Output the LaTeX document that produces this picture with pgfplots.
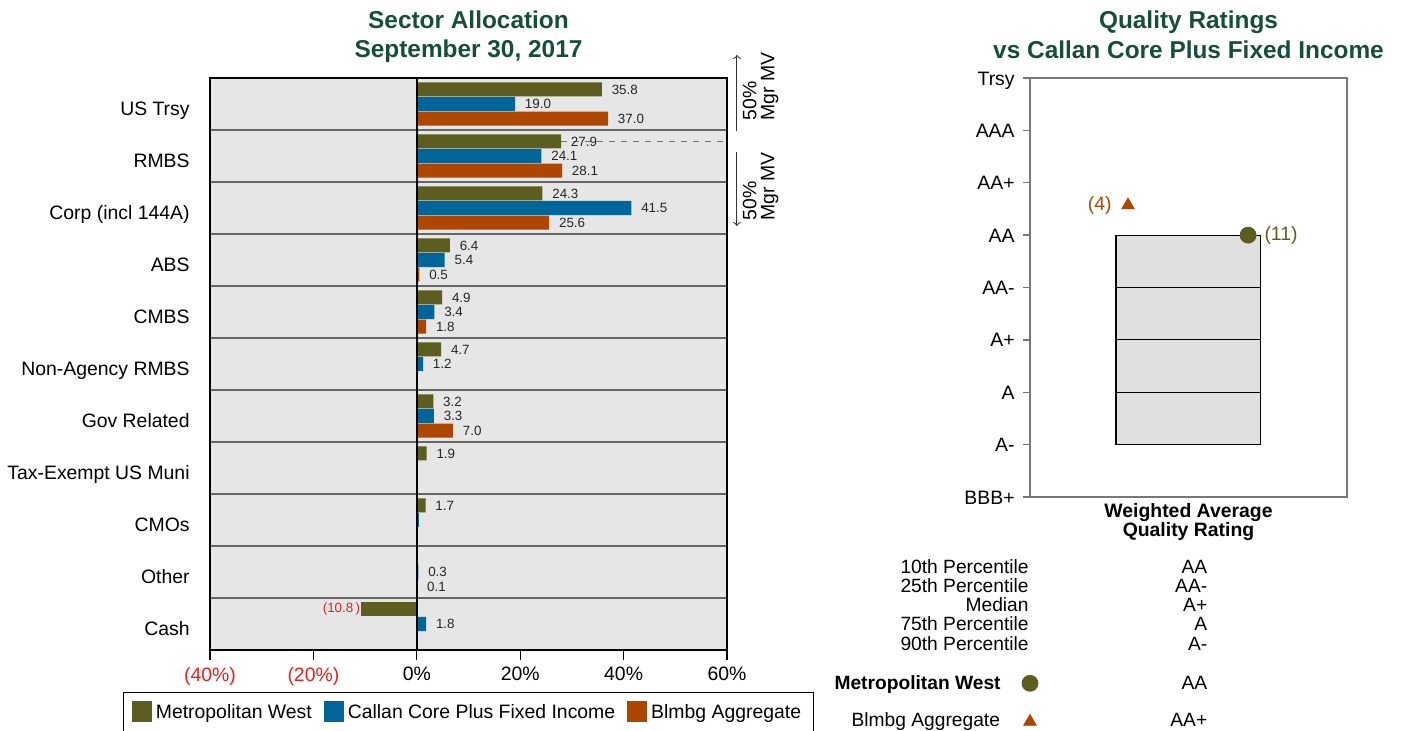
\documentclass[border=0pt]{standalone}
\usepackage{fontspec}
\setmainfont{Liberation Sans}
\usepackage{pgfplots}
\pgfplotsset{compat=1.18}
\usepackage{pgfplotstable}

\definecolor{mw}{RGB}{93,93,32}
\definecolor{cal}{RGB}{0,102,153}
\definecolor{blm}{RGB}{172,70,0}
\definecolor{bg}{RGB}{230,230,230}
\definecolor{boxg}{RGB}{224,224,224}
\definecolor{ttl}{RGB}{22,78,60}
\definecolor{neg}{RGB}{235,30,30}
\definecolor{axg}{RGB}{120,120,120}
\definecolor{dashcol}{RGB}{120,120,70}

\newcommand\fnt{\fontsize{9.7}{11}\selectfont}
\newcommand\lbl{\fontsize{6.7}{7}\selectfont}
\newcommand\ttlf{\fontsize{12.2}{14.5}\selectfont\bfseries}

% Sector allocation: x = percent, y = bar position (row 0 = US Trsy ... row -10 = Cash;
% Metropolitan West bars sit 0.28 above the row centre, Blmbg 0.28 below)
\pgfplotstableread{
x y
35.8 0.28
27.9 -0.72
24.3 -1.72
6.4 -2.72
4.9 -3.72
4.7 -4.72
3.2 -5.72
1.9 -6.72
1.7 -7.72
}\mwtab
\pgfplotstableread{
x y
-10.8 -9.72
}\mwneg
\pgfplotstableread{
x y
19.0 0
24.1 -1
41.5 -2
5.4 -3
3.4 -4
1.2 -5
3.3 -6
0.3 -9
1.8 -10
}\caltab
\pgfplotstableread{
x y
37.0 -0.28
28.1 -1.28
25.6 -2.28
0.5 -3.28
1.8 -4.28
7.0 -6.28
0.1 -9.28
}\blmtab

\begin{document}
\begin{tikzpicture}
\useasboundingbox (0pt,0pt) rectangle (701.5pt,-365pt);

% ---------------- Sector allocation ----------------
\begin{axis}[
  at={(105pt,-325pt)}, anchor=south west,
  scale only axis, width=258.5pt, height=286pt,
  xmin=-40, xmax=60, ymin=-10.5, ymax=0.5,
  axis background/.style={fill=bg},
  axis line style={black, line width=0.7pt},
  xtick={-40,-20,0,20,40,60},
  xticklabels={\textcolor{neg}{(40\%)},\textcolor{neg}{(20\%)},0\%,20\%,40\%,60\%},
  ytick={-10,-9,...,0},
  yticklabels={Cash,Other,CMOs,Tax-Exempt US Muni,Gov Related,Non-Agency RMBS,CMBS,ABS,Corp (incl 144A),RMBS,US Trsy},
  tick pos=left, tick align=outside,
  major tick length=5pt,
  xtick style={black, line width=0.6pt},
  ytick style={draw=none},
  x tick label style={font=\fnt},
  y tick label style={font=\fnt, anchor=base east, inner sep=0pt, xshift=-5pt, yshift=-5.6pt},
  minor ytick={-9.5,-8.5,...,-0.5},
  yminorgrids=true,
  minor grid style={black!60, line width=0.6pt},
  minor tick length=0pt,
  clip=false,
  legend columns=3,
  legend style={at={(0.5,-0.0734)}, anchor=north, draw=black, line width=0.6pt,
    font=\fnt, inner xsep=4pt, inner ysep=4pt,
    /tikz/every even column/.append style={column sep=4pt}},
  legend image code/.code={\fill[#1] (0pt,-4.5pt) rectangle (10pt,6pt);},
  every node near coord/.append style={anchor=west, inner sep=0pt, xshift=4.75pt, font=\lbl, text=black!85},
]
\addplot[xbar, bar width=0.27, bar shift=0, fill=mw, draw=none, point meta=x,
  nodes near coords={\pgfmathprintnumber[fixed,fixed zerofill,precision=1,assume math mode=true]{\pgfplotspointmeta}}]
  table[x=x,y=y]{\mwtab};
\addlegendentry{Metropolitan West}
\addplot[xbar, bar width=0.27, bar shift=0, fill=cal, draw=none, point meta=x,
  nodes near coords={\pgfmathprintnumber[fixed,fixed zerofill,precision=1,assume math mode=true]{\pgfplotspointmeta}}]
  table[x=x,y=y]{\caltab};
\addlegendentry{Callan Core Plus Fixed Income}
\addplot[xbar, bar width=0.27, bar shift=0, fill=blm, draw=none, point meta=x,
  nodes near coords={\pgfmathprintnumber[fixed,fixed zerofill,precision=1,assume math mode=true]{\pgfplotspointmeta}}]
  table[x=x,y=y]{\blmtab};
\addlegendentry{Blmbg Aggregate}
% negative cash position
\addplot[xbar, bar width=0.27, bar shift=0, fill=mw, draw=none, forget plot,
  nodes near coords={(10.8\,)},
  every node near coord/.append style={anchor=east, xshift=-5pt, text=neg}]
  table[x=x,y=y]{\mwneg};
% tiny CMOs bar (no label)
\addplot[xbar, bar width=0.27, bar shift=0, fill=cal, draw=none, forget plot]
  coordinates {(0.4,-8)};
% zero line
\addplot[black, line width=0.7pt, forget plot] coordinates {(0,-10.5) (0,0.5)};
% dashed reference line at the RMBS bar
\addplot[dashcol, dashed, line width=0.5pt, forget plot] coordinates {(27.9,-0.712) (60,-0.712)};
% 50% Mgr MV annotations
\draw[->, black!80, line width=0.5pt] (axis cs:61.93,-0.519) -- (axis cs:61.93,0.942);
\draw[->, black!80, line width=0.5pt] (axis cs:61.93,-0.923) -- (axis cs:61.93,-2.346);
\node[rotate=90, align=left, font=\fontsize{9.7}{9}\selectfont, inner sep=0pt] at (axis cs:66.5,0.337) {50\%\\Mgr MV};
\node[rotate=90, align=left, font=\fontsize{9.7}{9}\selectfont, inner sep=0pt] at (axis cs:66.5,-1.587) {50\%\\Mgr MV};
\end{axis}

% ---------------- Quality ratings ----------------
\begin{axis}[
  at={(515pt,-248.5pt)}, anchor=south west,
  scale only axis, width=158.5pt, height=209.5pt,
  xmin=0, xmax=1, ymin=0, ymax=8,
  xtick=\empty,
  ytick={0,1,...,8},
  yticklabels={BBB+,A-,A,A+,AA-,AA,AA+,AAA,Trsy},
  ytick pos=left, tick align=outside, major tick length=3.5pt,
  ytick style={axg, line width=0.7pt},
  axis line style={axg, line width=0.7pt},
  y tick label style={font=\fnt, anchor=base east, inner sep=0pt, xshift=-4pt, yshift=-3.5pt},
  clip=false,
]
\addplot[fill=boxg, draw=black, line width=0.6pt] coordinates {(0.271,1) (0.726,1) (0.726,5) (0.271,5) (0.271,1)};
\addplot[black, line width=0.5pt] coordinates {(0.271,2) (0.726,2)};
\addplot[black, line width=0.5pt] coordinates {(0.271,3) (0.726,3)};
\addplot[black, line width=0.5pt] coordinates {(0.271,4) (0.726,4)};
\addplot[only marks, mark=*, mark size=4pt, color=mw,
  nodes near coords={(11)},
  every node near coord/.append style={anchor=west, inner sep=0pt, xshift=8pt, text=mw, font=\fnt}]
  coordinates {(0.688,5)};
\addplot[only marks, mark=triangle*, mark size=3.6pt, color=blm,
  nodes near coords={(4)},
  every node near coord/.append style={anchor=east, inner sep=0pt, xshift=-8pt, text=blm, font=\fnt}]
  coordinates {(0.309,5.571)};
% legend symbols of the table below
\addplot[only marks, mark=*, mark size=4pt, color=mw] coordinates {(0,-3.557)};
\addplot[only marks, mark=triangle*, mark size=3.6pt, color=blm] coordinates {(0,-4.29)};
\end{axis}

% titles
\node[anchor=base, font=\ttlf, text=ttl] at (234.25pt,-14.35pt) {Sector Allocation};
\node[anchor=base, font=\ttlf, text=ttl] at (234.25pt,-28.85pt) {September 30, 2017};
\node[anchor=base, font=\ttlf, text=ttl] at (594.25pt,-14.35pt) {Quality Ratings};
\node[anchor=base, font=\ttlf, text=ttl] at (594.25pt,-29.35pt) {vs Callan Core Plus Fixed Income};
% x label of quality chart
\node[anchor=base, font=\fnt\bfseries] at (594.25pt,-258.5pt) {Weighted Average};
\node[anchor=base, font=\fnt\bfseries] at (594.25pt,-268pt) {Quality Rating};
% percentile table
\begin{scope}[every node/.style={font=\fontsize{9.6}{10}\selectfont, inner sep=0pt}]
\node[anchor=base east] at (514.5pt,-286.65pt) {10th Percentile};
\node[anchor=base east] at (514.5pt,-296.25pt) {25th Percentile};
\node[anchor=base east] at (514.5pt,-305.85pt) {Median};
\node[anchor=base east] at (514.5pt,-315.45pt) {75th Percentile};
\node[anchor=base east] at (514.5pt,-325.05pt) {90th Percentile};
\node[anchor=base east] at (603.8pt,-286.65pt) {AA};
\node[anchor=base east] at (603.8pt,-296.25pt) {AA-};
\node[anchor=base east] at (603.8pt,-305.85pt) {A+};
\node[anchor=base east] at (603.8pt,-315.45pt) {A};
\node[anchor=base east] at (603.8pt,-325.05pt) {A-};
\node[anchor=base east, font=\fontsize{9.6}{10}\selectfont\bfseries] at (500.5pt,-344.67pt) {Metropolitan West};
\node[anchor=base east] at (603.8pt,-344.67pt) {AA};
\node[anchor=base east] at (500.2pt,-363pt) {Blmbg Aggregate};
\node[anchor=base east] at (603.8pt,-363pt) {AA+};
\end{scope}
\end{tikzpicture}
\end{document}
